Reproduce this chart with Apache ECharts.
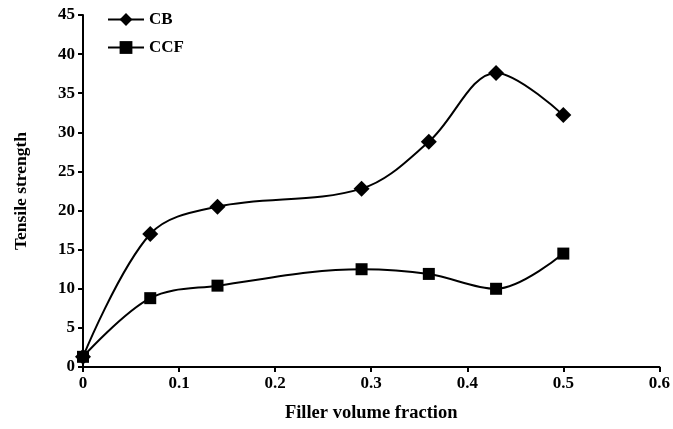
<!DOCTYPE html>
<html><head><meta charset="utf-8">
<script src="https://cdn.jsdelivr.net/npm/echarts@6/dist/echarts.min.js"></script>
<style>html,body{margin:0;padding:0;background:#fff}#c{width:673px;height:429px}</style>
</head><body><div id="c"></div>
<script>
const xValues = [0, 0.07, 0.14, 0.29, 0.36, 0.43, 0.5];
const cbValues = [1.3, 17, 20.5, 22.8, 28.8, 37.6, 32.2];
const ccfValues = [1.3, 8.8, 10.4, 12.5, 11.9, 10.0, 14.5];
const seriesNames = ['CB', 'CCF'];
const xTicks = [0, 0.1, 0.2, 0.3, 0.4, 0.5, 0.6];
const yTicks = [0, 5, 10, 15, 20, 25, 30, 35, 40, 45];

const font = 'Liberation Serif';
const chart = echarts.init(document.getElementById('c'));
const pair = (xs, ys) => xs.map((x, i) => [x, ys[i]]);
chart.setOption({
  animation: false,
  grid: {left: 83, right: 9, top: 15, bottom: 62},
  legend: {
    left: 102, top: 6, orient: 'vertical', itemGap: 11, itemWidth: 36, itemHeight: 16,
    textStyle: {fontFamily: font, fontWeight: 'bold', fontSize: 17, color: '#000'},
    data: seriesNames
  },
  xAxis: {
    type: 'value', min: xTicks[0], max: xTicks[xTicks.length - 1], interval: 0.1,
    name: 'Filler volume fraction', nameLocation: 'middle', nameGap: 37,
    nameTextStyle: {fontFamily: font, fontWeight: 'bold', fontSize: 18.5, color: '#000'},
    axisLine: {lineStyle: {color: '#000', width: 2}},
    axisTick: {lineStyle: {color: '#000', width: 2}, length: 5},
    axisLabel: {fontFamily: font, fontWeight: 'bold', fontSize: 17, color: '#000', margin: 8,
      formatter: v => String(Math.round(v * 10) / 10)},
    splitLine: {show: false}
  },
  yAxis: {
    type: 'value', min: yTicks[0], max: yTicks[yTicks.length - 1], interval: 5,
    name: 'Tensile strength', nameLocation: 'middle', nameGap: 53,
    nameTextStyle: {fontFamily: font, fontWeight: 'bold', fontSize: 17.5, color: '#000'},
    axisLine: {show: true, lineStyle: {color: '#000', width: 2}},
    axisTick: {show: true, lineStyle: {color: '#000', width: 2}, length: 5},
    axisLabel: {fontFamily: font, fontWeight: 'bold', fontSize: 17, color: '#000', margin: 8},
    splitLine: {show: false}
  },
  series: [
    {name: seriesNames[0], type: 'line', smooth: 0.35, data: pair(xValues, cbValues),
     symbol: 'diamond', symbolSize: 16, lineStyle: {color: '#000', width: 2},
     itemStyle: {color: '#000'}},
    {name: seriesNames[1], type: 'line', smooth: 0.35, data: pair(xValues, ccfValues),
     symbol: 'rect', symbolSize: 12, lineStyle: {color: '#000', width: 2},
     itemStyle: {color: '#000'}}
  ]
});
</script></body></html>
